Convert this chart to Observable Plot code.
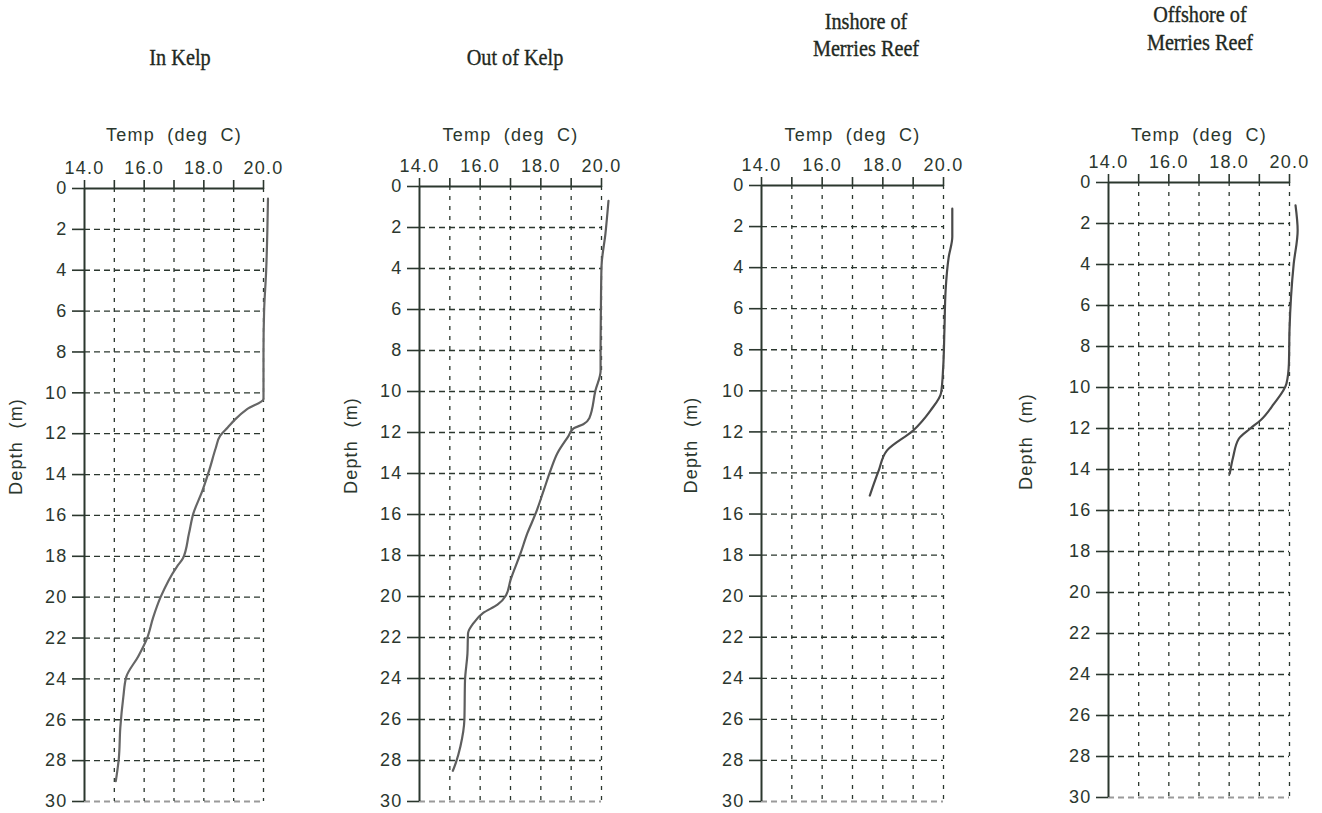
<!DOCTYPE html>
<html><head><meta charset="utf-8">
<script src="https://cdn.jsdelivr.net/npm/d3@7"></script>
<script src="https://cdn.jsdelivr.net/npm/@observablehq/plot@0.6"></script>
<style>
body{margin:0;background:#fff;width:1322px;height:813px;position:relative;overflow:hidden}
.panel{position:absolute;top:0}
.panel svg{overflow:visible}
.panel svg text{letter-spacing:1.2px;font-size:18px}
.title{position:absolute;transform:translateX(-50%) scaleX(0.88);font-family:"Liberation Serif",serif;font-size:23px;color:#1f2922;white-space:nowrap;text-align:center;line-height:27px;-webkit-text-stroke:0.35px #1f2922}
</style></head><body>
<script>
// ---- data ----
const titles = [["In Kelp"], ["Out of Kelp"], ["Inshore of", "Merries Reef"], ["Offshore of", "Merries Reef"]];
const tempTicks = [14, 15, 16, 17, 18, 19, 20];
const tempLabels = [14, 16, 18, 20];
const depthTicks = [0, 2, 4, 6, 8, 10, 12, 14, 16, 18, 20, 22, 24, 26, 28, 30];
const depthGrid = [2, 4, 6, 8, 10, 12, 14, 16, 18, 20, 22, 24, 26, 28];
const tempGrid = [15, 16, 17, 18, 19, 20];
const xLabel = "Temp  (deg  C)";
const yLabel = "Depth  (m)";

const inKelpDepth = [0.5, 2, 4, 6, 8, 10.3, 10.8, 11.3, 11.7, 12.1, 12.7, 13.7, 14.8, 15.9, 16.9, 18.1, 18.5, 20.0, 21.0, 22.0, 22.9, 23.9, 24.9, 26.4, 27.9, 29.0];
const inKelpTemp  = [20.15, 20.13, 20.09, 20.02, 20.0, 20.0, 19.45, 19.05, 18.8, 18.55, 18.4, 18.2, 17.95, 17.65, 17.5, 17.3, 17.1, 16.55, 16.3, 16.1, 15.8, 15.4, 15.3, 15.2, 15.15, 15.05];

const outKelpDepth = [0.7, 2.3, 3.9, 6, 7.8, 9.0, 9.95, 11.3, 11.6, 11.8, 12.2, 13.0, 13.85, 14.8, 15.95, 16.9, 17.9, 19.2, 19.95, 20.4, 20.8, 21.3, 21.8, 22.8, 24.1, 26.0, 27.3, 28.1, 28.5];
const outKelpTemp  = [20.23, 20.13, 20.0, 19.98, 19.97, 19.97, 19.8, 19.6, 19.4, 19.08, 18.9, 18.55, 18.32, 18.1, 17.83, 17.56, 17.33, 17.0, 16.85, 16.57, 16.1, 15.78, 15.6, 15.58, 15.5, 15.48, 15.35, 15.2, 15.1];

const inshoreDepth = [1.13, 2.5, 3.5, 5.1, 7.06, 8.85, 10.1, 10.96, 11.93, 12.9, 13.9, 15.1];
const inshoreTemp  = [20.29, 20.29, 20.17, 20.07, 20.03, 19.99, 19.92, 19.57, 19.0, 18.14, 17.86, 17.57];

const offshoreDepth = [1.12, 2.34, 3.96, 5.6, 7.2, 8.84, 9.8, 10.8, 11.6, 12.0, 12.5, 13.4, 14.2];
const offshoreTemp  = [20.2, 20.27, 20.14, 20.05, 20.0, 19.98, 19.9, 19.48, 19.04, 18.7, 18.32, 18.13, 18.02];

// ---- layout ----
const ink = "#2b372e";
const H = 813;
const panels = [
  {depth: inKelpDepth, temp: inKelpTemp, left: 0, width: 330, x14: 84, x20: 263, y0: 188, y30: 801, tx: 180, ty: 44, lh: 27, line: "#666"},
  {depth: outKelpDepth, temp: outKelpTemp, left: 335, width: 330, x14: 419, x20: 601, y0: 186, y30: 801, tx: 515, ty: 44, lh: 27, line: "#5e5e5e"},
  {depth: inshoreDepth, temp: inshoreTemp, left: 675, width: 330, x14: 761, x20: 943, y0: 185, y30: 801, tx: 866, ty: 8, lh: 27, line: "#4a4a4a"},
  {depth: offshoreDepth, temp: offshoreTemp, left: 1010, width: 312, x14: 1108, x20: 1289, y0: 182, y30: 797, tx: 1200, ty: 1, lh: 28, line: "#4a4a4a"}
];

panels.forEach((p, k) => {
  const t = document.createElement("div");
  t.className = "title";
  t.style.left = p.tx + "px";
  t.style.top = p.ty + "px";
  t.style.lineHeight = p.lh + "px";
  t.innerHTML = titles[k].join("<br>");
  document.body.appendChild(t);

  const data = p.depth.map((d, i) => ({depth: d, temp: p.temp[i]}));
  const chart = Plot.plot({
    width: p.width, height: H,
    marginLeft: p.x14 - p.left,
    marginRight: p.width - (p.x20 - p.left),
    marginTop: p.y0,
    marginBottom: H - p.y30,
    x: {domain: [14, 20]},
    y: {domain: [0, 30], reverse: true},
    style: {fontFamily: "'Liberation Sans', sans-serif", fontSize: "18px", color: ink, background: "transparent", overflow: "visible"},
    marks: [
      Plot.ruleY(depthGrid, {stroke: ink, strokeWidth: 1.3, strokeDasharray: "6,4"}),
      Plot.ruleY([30], {stroke: "#9a9a9a", strokeWidth: 2, strokeDasharray: "6,4"}),
      Plot.ruleX(tempGrid, {stroke: ink, strokeWidth: 1.3, strokeDasharray: "4,6"}),
      Plot.ruleY([0], {stroke: ink, strokeWidth: 2}),
      Plot.ruleX([14], {stroke: ink, strokeWidth: 2}),
      Plot.axisX({anchor: "top", ticks: tempTicks, tickSize: 9, tickFormat: () => "", label: null, stroke: ink, strokeWidth: 1.6}),
      Plot.axisX({anchor: "top", ticks: tempLabels, tickSize: 0, tickPadding: 15, tickFormat: d => d.toFixed(1), label: null, fill: ink}),
      Plot.axisY({anchor: "left", ticks: depthTicks, tickSize: 12, tickPadding: 5, label: null, fill: ink, stroke: ink, strokeWidth: 1.6}),
      Plot.text([xLabel], {text: d => d, frameAnchor: "top", dy: -(p.y0 - 128), fill: ink}),
      Plot.text([yLabel], {text: d => d, frameAnchor: "left", dx: -(p.x14 - p.left) + 16, rotate: -90, fill: ink}),
      Plot.line(data, {x: "temp", y: "depth", stroke: p.line, strokeWidth: 2.2, curve: "monotone-y"})
    ]
  });
  const div = document.createElement("div");
  div.className = "panel";
  div.style.left = p.left + "px";
  div.appendChild(chart);
  document.body.appendChild(div);
});
</script>
</body></html>
